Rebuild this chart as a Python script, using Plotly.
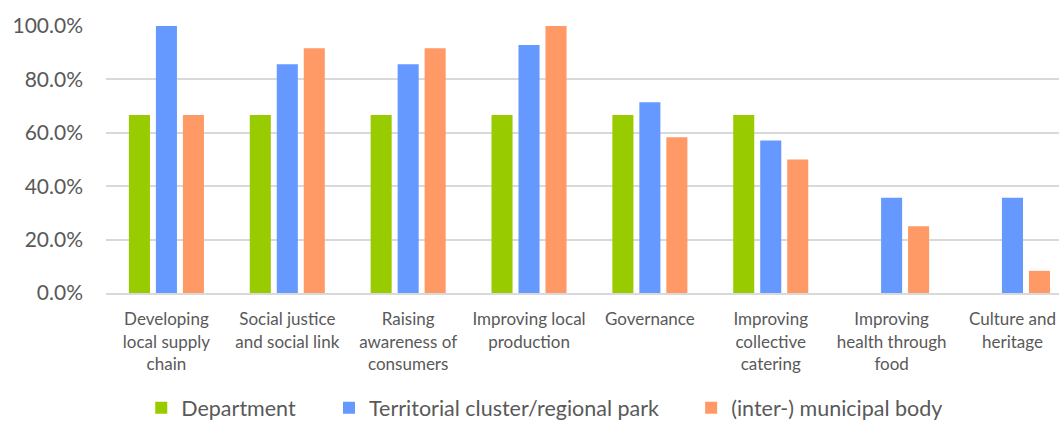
import plotly.graph_objects as go

categories = [
    "Developing<br>local supply<br>chain",
    "Social justice<br>and social link",
    "Raising<br>awareness of<br>consumers",
    "Improving local<br>production",
    "Governance",
    "Improving<br>collective<br>catering",
    "Improving<br>health through<br>food",
    "Culture and<br>heritage",
]
department = [0.667, 0.667, 0.667, 0.667, 0.667, 0.667, 0.0, 0.0]
territorial = [1.0, 0.857, 0.857, 0.929, 0.714, 0.571, 0.357, 0.357]
municipal = [0.667, 0.917, 0.917, 1.0, 0.583, 0.50, 0.25, 0.083]

series_names = ["Department", "Territorial cluster/regional park", "(inter-) municipal body"]
series_values = [department, territorial, municipal]
series_colors = ["#99CC00", "#6699FF", "#FF9966"]
legend_ids = ["legend", "legend2", "legend3"]
legend_x = [0.037, 0.234, 0.614]

FONT = "Lato"
GREY = "#595959"

fig = go.Figure()
x_idx = list(range(len(categories)))
for name, vals, color, lg in zip(series_names, series_values, series_colors, legend_ids):
    fig.add_trace(go.Bar(
        x=x_idx, y=vals, name=name, marker_color=color,
        marker_line_width=0, legend=lg,
    ))

# one legend per series so each entry sits at its own horizontal position
legend_common = dict(
    orientation="h", yanchor="middle", y=-0.43, xanchor="left",
    font=dict(family=FONT, size=21.5, color=GREY),
    bgcolor="rgba(0,0,0,0)", borderwidth=0,
)
layout_legends = {}
for lg, lx in zip(legend_ids, legend_x):
    layout_legends[lg] = dict(legend_common, x=lx)

fig.update_layout(
    width=1059, height=423,
    margin=dict(l=106, r=0, t=26, b=130, autoexpand=False),
    paper_bgcolor="white", plot_bgcolor="white",
    barmode="group", bargap=0.33, bargroupgap=0.22,
    font=dict(family=FONT, color=GREY),
    showlegend=True,
    **layout_legends,
)
fig.update_xaxes(
    tickmode="array", tickvals=x_idx, ticktext=categories,
    range=[-0.5, 7.385],
    showline=True, linecolor="#d9d9d9", linewidth=2,
    showgrid=False, ticks="", ticklabelstandoff=10,
    tickfont=dict(family=FONT, size=17, color=GREY),
    tickangle=0, automargin=False,
)
fig.update_yaxes(
    range=[0, 1], tickvals=[0, 0.2, 0.4, 0.6, 0.8, 1.0], tickformat=".1%",
    showgrid=True, gridcolor="#d9d9d9", gridwidth=2,
    zeroline=False, showline=False, ticks="", ticklabelstandoff=22,
    tickfont=dict(family=FONT, size=21, color=GREY),
    automargin=False,
)

fig.write_html("out.html")
